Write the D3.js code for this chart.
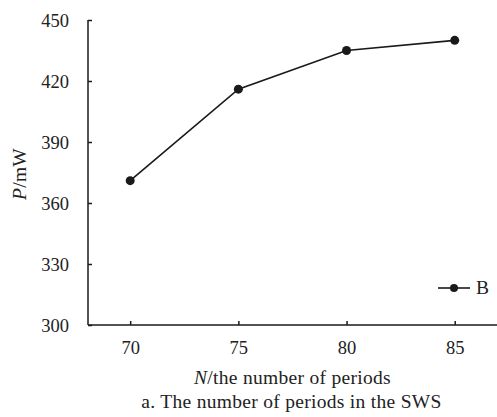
<!DOCTYPE html>
<html><head><meta charset="utf-8">
<script src="https://cdn.jsdelivr.net/npm/d3@7"></script>
<style>body{margin:0;background:#fff}svg{display:block}</style>
</head><body>
<script>
const periods = [70, 75, 80, 85];
const powerB = [371, 416, 435, 440];
const yTicks = [300, 330, 360, 390, 420, 450];
const seriesName = "B";

const W = 497, H = 417;
const svg = d3.select("body").append("svg").attr("width", W).attr("height", H);
const font = "serif";
const fs = 18.5, fsL = 19.5;
const col = "#1a1a1a";

const x = d3.scaleLinear().domain([68.05, 87]).range([88, 498]);
const y = d3.scaleLinear().domain([300, 450]).range([325, 20]);

// y axis
const ya = svg.append("g").attr("transform", "translate(88,0)")
  .call(d3.axisRight(y).tickValues(yTicks).tickSize(4).tickFormat(d3.format("d")));
ya.attr("font-family", font);
ya.select(".domain").attr("d", `M0,${y(450)}V${y(300)}`).attr("stroke", col).attr("stroke-width", 1.5);
ya.selectAll(".tick line").attr("stroke", col).attr("stroke-width", 1.5);
ya.selectAll(".tick text").attr("x", -19).attr("text-anchor", "end").attr("dy", "0.33em")
  .attr("font-family", font).attr("font-size", fs).attr("fill", "#222");

// x axis
const xa = svg.append("g").attr("transform", `translate(0,${y(300)})`)
  .call(d3.axisTop(x).tickValues(periods).tickSize(4).tickFormat(d3.format("d")));
xa.attr("font-family", font);
xa.select(".domain").attr("d", `M88,0H497`).attr("stroke", col).attr("stroke-width", 1.5);
xa.selectAll(".tick line").attr("stroke", col).attr("stroke-width", 1.5);
xa.selectAll(".tick text").attr("y", 29).attr("dy", 0)
  .attr("font-family", font).attr("font-size", fs).attr("fill", "#222");

// line
const data = periods.map((p, i) => ({p, v: powerB[i]}));
svg.append("path").datum(data)
  .attr("d", d3.line().x(d => x(d.p)).y(d => y(d.v)))
  .attr("fill", "none").attr("stroke", col).attr("stroke-width", 1.6);
svg.selectAll("circle.pt").data(data).join("circle").attr("class", "pt")
  .attr("cx", d => x(d.p)).attr("cy", d => y(d.v)).attr("r", 4.5).attr("fill", col);

// legend
const ly = 288;
svg.append("line").attr("x1", 438).attr("x2", 470).attr("y1", ly).attr("y2", ly)
  .attr("stroke", col).attr("stroke-width", 1.6);
svg.append("circle").attr("cx", 454).attr("cy", ly).attr("r", 4).attr("fill", col);
svg.append("text").attr("x", 476).attr("y", ly + 6).text(seriesName)
  .attr("font-family", font).attr("font-size", fsL).attr("fill", "#222");

// y label
const yl = svg.append("text").attr("transform", "translate(26,174) rotate(-90)")
  .attr("text-anchor", "middle").attr("font-family", font).attr("font-size", fsL).attr("fill", "#222")
  .attr("letter-spacing", 0.3);
yl.append("tspan").attr("font-style", "italic").text("P");
yl.append("tspan").text("/mW");

// x label
const xl = svg.append("text").attr("x", 292.5).attr("y", 384)
  .attr("text-anchor", "middle").attr("font-family", font).attr("font-size", fsL).attr("fill", "#222")
  .attr("letter-spacing", 0.3);
xl.append("tspan").attr("font-style", "italic").text("N");
xl.append("tspan").text("/the number of periods");

svg.append("text").attr("x", 291.5).attr("y", 408).attr("text-anchor", "middle")
  .attr("font-family", font).attr("font-size", fsL).attr("fill", "#222").attr("letter-spacing", 0.3)
  .text("a. The number of periods in the SWS");
</script>
</body></html>
